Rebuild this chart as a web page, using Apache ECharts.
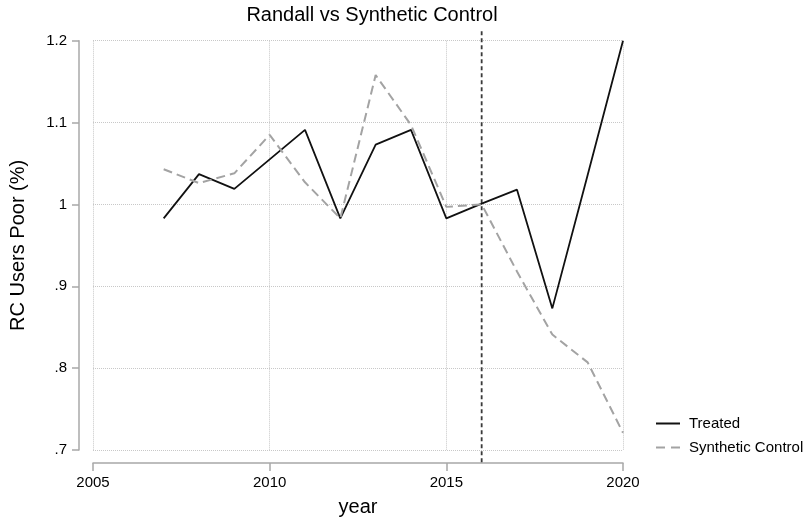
<!DOCTYPE html>
<html>
<head>
<meta charset="utf-8">
<script src="https://cdn.jsdelivr.net/npm/echarts@6/dist/echarts.min.js"></script>
<style>
html,body{margin:0;padding:0;background:#fff;}
#chart{width:811px;height:522px;}
</style>
</head>
<body>
<div id="chart"></div>
<script>
// ---- data ----
const years = [2007, 2008, 2009, 2010, 2011, 2012, 2013, 2014, 2015, 2016, 2017, 2018, 2019, 2020];
const treated = [0.983, 1.037, 1.019, 1.055, 1.091, 0.983, 1.073, 1.091, 0.983, 1.001, 1.018, 0.873, 1.036, 1.2];
const synthetic = [1.043, 1.026, 1.038, 1.085, 1.027, 0.983, 1.158, 1.097, 0.997, 1.000, 0.918, 0.841, 0.807, 0.721];
const treatmentYear = 2016;
const treatmentSpan = [0.685, 1.215];   // vertical extent of the reference line (value units)
const xTicks = [2005, 2010, 2015, 2020];
const yTicks = [0.7, 0.8, 0.9, 1.0, 1.1, 1.2];
const seriesNames = ['Treated', 'Synthetic Control'];

const FONT = "'Liberation Sans', Helvetica, Arial, sans-serif";
const chart = echarts.init(document.getElementById('chart'), null, {renderer: 'canvas'});

const pairs = (ys) => years.map((y, i) => [y, ys[i]]);

const option = {
  animation: false,
  backgroundColor: '#ffffff',
  textStyle: {fontFamily: FONT},
  title: {
    text: 'Randall vs Synthetic Control',
    left: 367, top: 0, textAlign: 'center',
    textStyle: {fontFamily: FONT, fontSize: 20, fontWeight: 'normal', color: '#000'}
  },
  legend: {
    orient: 'vertical',
    left: 651, top: 411,
    itemWidth: 24, itemHeight: 2, itemGap: 9,
    textStyle: {fontFamily: FONT, fontSize: 15, color: '#000', padding: [0, 0, 0, 4]},
    data: [
      {name: seriesNames[0], icon: 'path://M0,0H24V2H0Z'},
      {name: seriesNames[1], icon: 'path://M0,0H9V2H0Z M15,0H24V2H15Z'}
    ]
  },
  grid: {left: 86.5, right: 188, top: 40.7, bottom: 67.7, containLabel: false},
  xAxis: {
    type: 'value',
    min: xTicks[0], max: xTicks[xTicks.length - 1], interval: 5,
    offset: 13,
    name: 'year', nameLocation: 'middle', nameGap: 34,
    nameTextStyle: {fontFamily: FONT, fontSize: 20, color: '#000'},
    axisLine: {show: true, lineStyle: {color: '#a8a8a8', width: 1.5}},
    axisTick: {show: true, length: 8, lineStyle: {color: '#a8a8a8', width: 1.5}},
    axisLabel: {fontFamily: FONT, fontSize: 15, color: '#000', margin: 12, formatter: v => String(v)},
    splitLine: {show: true, lineStyle: {color: '#c8c8c8', type: 'dotted', width: 1}}
  },
  yAxis: {
    type: 'value',
    min: yTicks[0], max: yTicks[yTicks.length - 1], interval: 0.1,
    offset: 14,
    name: 'RC Users Poor (%)', nameLocation: 'middle', nameGap: 51, nameRotate: 90,
    nameTextStyle: {fontFamily: FONT, fontSize: 20, color: '#000'},
    axisLine: {show: true, lineStyle: {color: '#a8a8a8', width: 1.5}},
    axisTick: {show: true, length: 7, lineStyle: {color: '#a8a8a8', width: 1.5}},
    axisLabel: {
      fontFamily: FONT, fontSize: 15, color: '#000', margin: 12,
      formatter: v => String(+v.toFixed(1)).replace(/^0\./, '.')
    },
    splitLine: {show: true, lineStyle: {color: '#c8c8c8', type: 'dotted', width: 1}}
  },
  series: [
    {
      name: 'treatment', type: 'line', clip: false, silent: true,
      data: treatmentSpan.map(v => [treatmentYear, v]),
      symbol: 'none', z: 2,
      lineStyle: {color: '#3a3a3a', type: [4, 3], width: 1.8}
    },
    {
      name: seriesNames[0], type: 'line', data: pairs(treated),
      symbol: 'none', z: 3,
      lineStyle: {color: '#111', width: 1.8, type: 'solid'},
      itemStyle: {color: '#111'}
    },
    {
      name: seriesNames[1], type: 'line', data: pairs(synthetic),
      symbol: 'none', z: 4,
      lineStyle: {color: '#a3a3a3', width: 2, type: [9, 5]},
      itemStyle: {color: '#a3a3a3'}
    }
  ]
};
chart.setOption(option);
</script>
</body>
</html>
